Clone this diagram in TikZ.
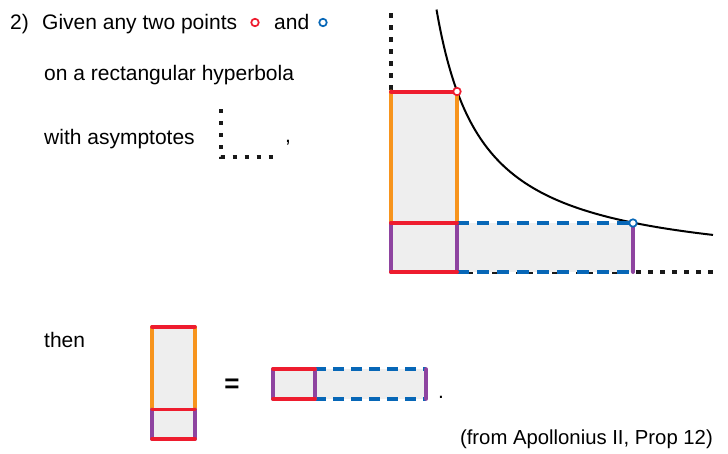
\documentclass[tikz,border=0pt]{standalone}
\usepackage{fontspec}
\setmainfont{Liberation Sans}
\definecolor{cred}{HTML}{EE1C2E}
\definecolor{corange}{HTML}{F7941D}
\definecolor{cpurple}{HTML}{8E44A0}
\definecolor{cblue}{HTML}{0767B7}
\definecolor{cfill}{HTML}{EEEEEE}
\begin{document}
\begin{tikzpicture}[x=1pt,y=-1pt,
  txt/.style={anchor=base west,inner sep=0pt,font=\fontsize{21}{25}\selectfont},
  asym/.style={line width=4pt,dash pattern=on 4.5pt off 7.5pt,black!90},
  asymsmall/.style={line width=4pt,dash pattern=on 4pt off 8pt,black!90},
  edge/.style={line width=4pt,line cap=round},
  sedge/.style={line width=3.6pt,line cap=round},
  bdash/.style={line width=4pt,cblue,dash pattern=on 12pt off 8pt},
  sbdash/.style={line width=3.6pt,cblue,dash pattern=on 11pt off 7pt},
  pt/.style={circle,draw,line width=1.7pt,fill=white,minimum size=7.5pt,inner sep=0pt}]
\useasboundingbox (0,0) rectangle (728,453);
% text
\node[txt] (n2) at (10,29.5) {2)};
\node[txt] (l1) at (42,29.5) {Given any two points};
\node[pt,draw=cred] (rp) at (255,22.5) {};
\node[txt] (and) at (274,29.5) {and};
\node[pt,draw=cblue] (bp) at (323,22.5) {};
\node[txt] (l2) at (44,80) {on a rectangular hyperbola};
\node[txt] (l3) at (44,144) {with asymptotes};
\coordinate (ia) at (220.5,109);
\coordinate (io) at (220.5,157);
\coordinate (ib) at (274,157);
\draw[asymsmall] (ia) -- (io) -- (ib);
\node[txt] (comma) at (285,142) {,};
% main figure
\coordinate (O) at (391,272);
\coordinate (Otop) at (391,13);
\coordinate (Oend) at (713,272);
\coordinate (A) at (457,91.5);
\coordinate (B) at (633,223);
\coordinate (M) at (391,223);
\coordinate (C) at (457,223);
\coordinate (D) at (457,272);
\coordinate (E) at (633,272);
\coordinate (F) at (391,91.5);
\draw[asym] (Otop) -- (O) -- (Oend);
\fill[cfill] (F) rectangle (D);
\fill[cfill] (C) rectangle (E);
\draw[line width=2pt,domain=436.5:713,samples=120,smooth] plot (\x,{272-11940/(\x-391)});
\draw[edge,corange] (F) -- (M) (A) -- (C);
\draw[edge,cpurple] (M) -- (O) (C) -- (D);
\draw[bdash] (C) -- (B) (D) -- (E);
\draw[edge,cpurple] (B) -- (E);
\draw[edge,cred] (F) -- (A) (M) -- (C) (O) -- (D);
\node[pt,draw=cred] (Ap) at (A) {};
\node[pt,draw=cblue] (Bp) at (B) {};
% bottom
\node[txt] (then) at (44,347) {then};
\coordinate (s1) at (152,327);
\coordinate (s2) at (152,409.5);
\coordinate (s3) at (195,409.5);
\coordinate (s4) at (195,439);
\coordinate (s5) at (152,439);
\coordinate (s6) at (195,327);
\fill[cfill] (s1) rectangle (s4);
\draw[sedge,corange] (s1) -- (s2) (s6) -- (s3);
\draw[sedge,cpurple] (s2) -- (s5) (s3) -- (s4);
\draw[sedge,cred] (s1) -- (s6) (s2) -- (s3) (s5) -- (s4);
\node[inner sep=0pt,font=\fontsize{26}{28}\selectfont\bfseries] (eq) at (232,386) {=};
\coordinate (r1) at (273,369);
\coordinate (r2) at (315,369);
\coordinate (r3) at (426,369);
\coordinate (r4) at (426,399);
\coordinate (r5) at (315,399);
\coordinate (r6) at (273,399);
\fill[cfill] (r1) rectangle (r4);
\draw[sbdash] (r2) -- (r3) (r5) -- (r4);
\draw[sedge,cpurple] (r1) -- (r6) (r2) -- (r5) (r3) -- (r4);
\draw[sedge,cred] (r1) -- (r2) (r6) -- (r5);
\node[txt] (dot) at (438,398) {.};
\node[txt,anchor=base east,font=\fontsize{20.3}{24}\selectfont] (src) at (713,444) {(from Apollonius II, Prop 12)};
\end{tikzpicture}
\end{document}
